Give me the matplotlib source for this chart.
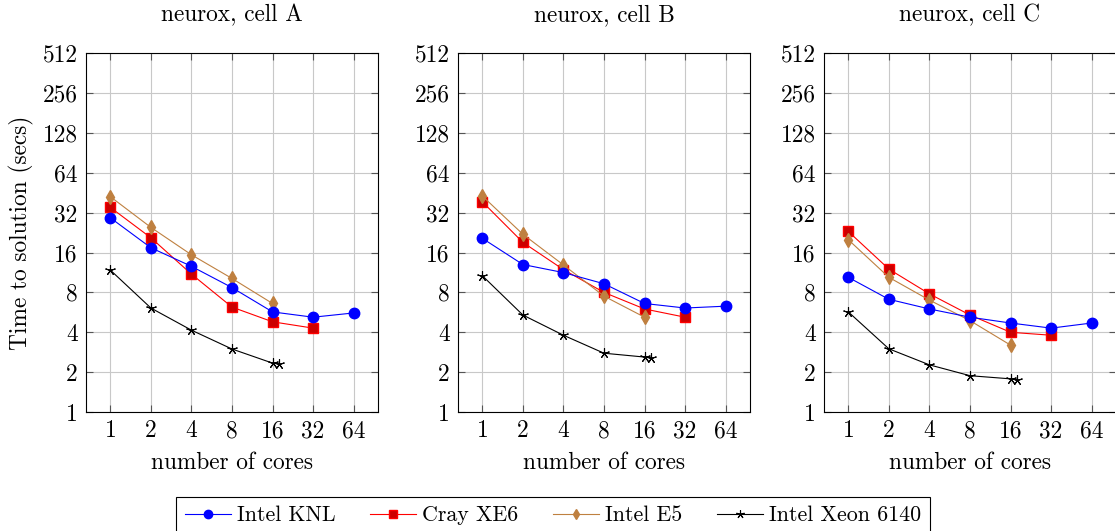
import numpy as np
import matplotlib
matplotlib.use('Agg')
import matplotlib.pyplot as plt
from matplotlib.ticker import FixedLocator, FixedFormatter, NullLocator

plt.rcParams['font.family'] = 'cmr10'
plt.rcParams['mathtext.fontset'] = 'cm'
plt.rcParams['axes.formatter.use_mathtext'] = True
plt.rcParams['font.size'] = 16.8

# cores used per series
cores = [1, 2, 4, 8, 16, 32, 64]
cores_cray = [1, 2, 4, 8, 16, 32]
cores_e5 = [1, 2, 4, 8, 16]
cores_xeon = [1, 2, 4, 8, 16, 18]

panels = ['neurox, cell A', 'neurox, cell B', 'neurox, cell C']

# time to solution (secs), one list per panel
knl = [
    [29.3, 17.4, 12.6, 8.7, 5.7, 5.2, 5.6],
    [20.5, 13.0, 11.3, 9.3, 6.6, 6.1, 6.3],
    [10.4, 7.1, 6.0, 5.2, 4.7, 4.3, 4.7],
]
cray = [
    [35.1, 20.7, 11.0, 6.2, 4.8, 4.3],
    [38.7, 19.1, 11.9, 8.0, 6.0, 5.2],
    [23.1, 12.0, 7.8, 5.4, 4.0, 3.8],
]
e5 = [
    [42.3, 24.8, 15.4, 10.2, 6.6],
    [42.8, 22.0, 12.9, 7.5, 5.2],
    [20.0, 10.4, 7.0, 4.9, 3.2],
]
xeon = [
    [11.8, 6.1, 4.15, 2.99, 2.34, 2.3],
    [10.7, 5.4, 3.8, 2.78, 2.6, 2.55],
    [5.7, 3.0, 2.27, 1.88, 1.78, 1.75],
]

xticks = [1, 2, 4, 8, 16, 32, 64]
yticks = [1, 2, 4, 8, 16, 32, 64, 128, 256, 512]

W, H = 1115, 531
fig = plt.figure(figsize=(W / 100, H / 100), dpi=100)

lefts = [86, 458, 824]
ax_w = 292
top, bottom = 53.3, 412

for i, left in enumerate(lefts):
    ax = fig.add_axes([left / W, (H - bottom) / H, ax_w / W, (bottom - top) / H])
    ax.set_xscale('log', base=2)
    ax.set_yscale('log', base=2)

    ax.plot(cores, knl[i], color='blue', lw=0.8, marker='o', ms=7.5,
            mfc='blue', mec='blue', label='Intel KNL', zorder=4)
    ax.plot(cores_cray, cray[i], color='red', lw=0.8, marker='s', ms=7,
            mfc='#cc0000', mec='red', label='Cray XE6', zorder=3)
    ax.plot(cores_e5, e5[i], color='#bf8040', lw=0.8, marker='d', ms=7,
            mfc='#bf8040', mec='#bf8040', label='Intel E5', zorder=3)
    ax.plot(cores_xeon, xeon[i], color='black', lw=0.8, marker=(5, 2, 0), ms=7.5,
            mew=0.8, label='Intel Xeon 6140', zorder=3)

    ax.set_xlim(2 ** -0.6, 2 ** 6.6)
    ax.set_ylim(1, 512)
    ax.xaxis.set_major_locator(FixedLocator(xticks))
    ax.xaxis.set_major_formatter(FixedFormatter([str(v) for v in xticks]))
    ax.yaxis.set_major_locator(FixedLocator(yticks))
    ax.yaxis.set_major_formatter(FixedFormatter([str(v) for v in yticks]))
    ax.xaxis.set_minor_locator(NullLocator())
    ax.yaxis.set_minor_locator(NullLocator())
    ax.grid(True, color='#c8c8c8', lw=0.8)
    ax.set_axisbelow(True)
    ax.tick_params(direction='in', length=5, width=0.8, color='#555555',
                   top=True, right=True, labelsize=16.8, pad=6)
    for s in ax.spines.values():
        s.set_linewidth(0.8)
    ax.set_title(panels[i], fontsize=16.8, pad=23)
    ax.set_xlabel('number of cores', fontsize=16.8, labelpad=7)
    if i == 0:
        ax.set_ylabel('Time to solution (secs)', fontsize=16.8, labelpad=6)

handles, labels = ax.get_legend_handles_labels()
leg = fig.legend(handles, labels, loc='upper center', bbox_to_anchor=(553 / W, 1 - 497 / H),
                 ncol=4, frameon=True, fancybox=False, edgecolor='black', framealpha=1,
                 fontsize=15.8, handlelength=2.1, handletextpad=0.3, columnspacing=1.55,
                 borderpad=0.4, borderaxespad=0, markerscale=0.8)
leg.get_frame().set_linewidth(0.8)

fig.savefig('out.png', dpi=100)
